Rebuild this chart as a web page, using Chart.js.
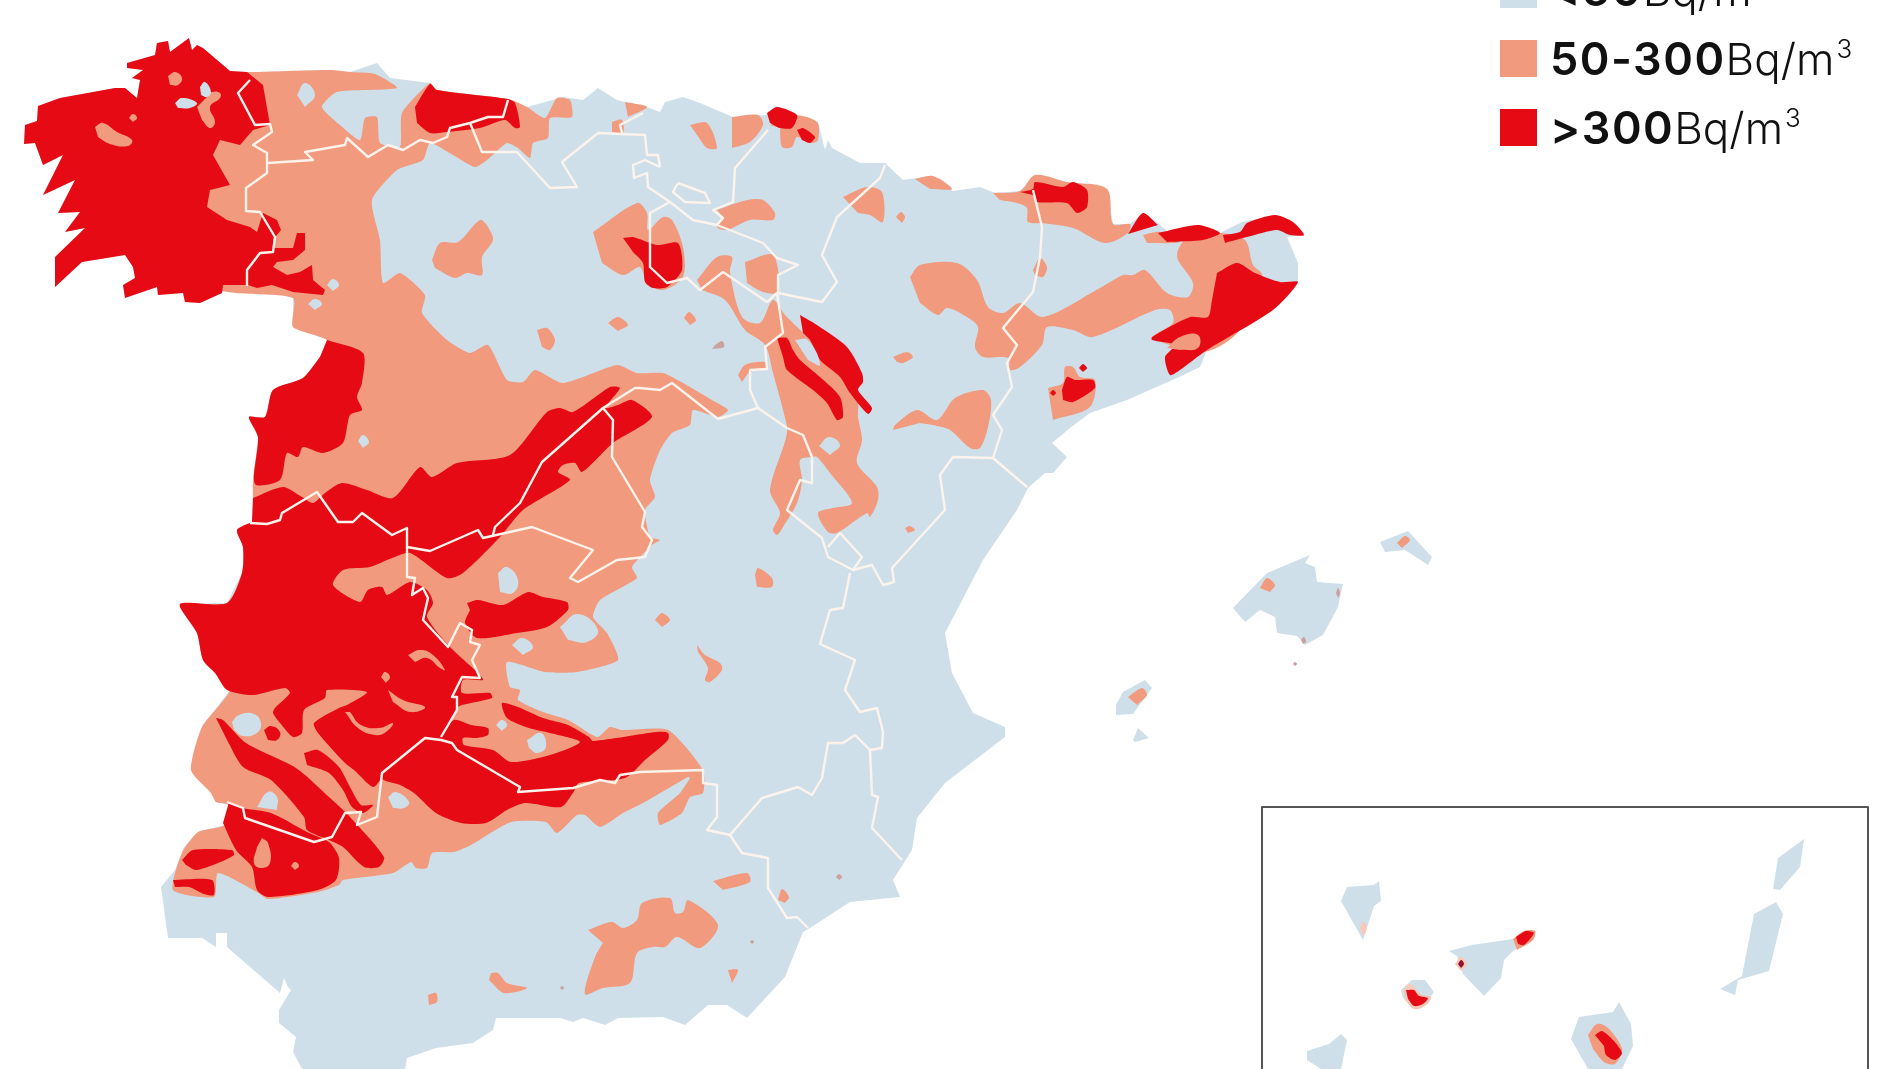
<!DOCTYPE html>
<html>
<head>
<meta charset="utf-8">
<title>Radón en España</title>
<script src="https://cdn.jsdelivr.net/npm/chart.js@4/dist/chart.umd.min.js"></script>
<style>
  html, body { margin: 0; padding: 0; background: #fff; overflow: hidden; }
  #wrap { position: relative; width: 1900px; height: 1069px; overflow: hidden; }
  #map { position: absolute; left: 0; top: 0; }
  .key { position: absolute; left: 1500px; width: 37px; height: 37px; }
  .lab { position: absolute; left: 1550px; font: 300 44px/50px Inter, sans-serif; color: #111; white-space: nowrap; }
  .lab b { font-weight: 600; font-size: 45px; letter-spacing: 1.5px; }
  .lab sup { font-size: 26px; line-height: 0; vertical-align: 17px; margin-left: 2px; }
</style>
</head>
<body>
<div id="wrap">
  <canvas id="map" width="1900" height="1069"></canvas>
</div>
<script>
// colours
var lowColor = "#cfdfe9";
var midColor = "#f19a7d";
var highColor = "#e50a14";
var borderColor = "#fbf3ec";
var faintColor = "#c9a3a0";
var darkSpotColor = "#8f1030";
var haloColor = "#f8c9b8";

// legend
var legendBold = ["<50", "50-300", ">300"];
var legendUnit = "Bq/m";

// ***map outlines, in picture coordinates***
var mainland = [[24,144],[25,125],[37,121],[38,106],[60,98],[115,88],[125,88],[137,98],[140,80],[132,78],[143,70],[127,68],[127,63],[155,55],[157,43],[168,41],[170,52],[189,38],[192,50],[197,45],[203,48],[230,71],[247,72],[257,72],[330,70],[350,72],[377,63],[390,78],[430,83],[437,90],[508,99],[527,107],[563,97],[583,100],[598,88],[617,100],[647,107],[660,112],[665,102],[683,97],[700,103],[733,117],[767,115],[777,106],[797,115],[818,122],[825,150],[828,140],[832,148],[860,163],[885,163],[903,180],[930,176],[953,191],[980,187],[995,193],[1020,191],[1035,175],[1067,182],[1107,189],[1113,224],[1130,224],[1143,213],[1157,222],[1168,232],[1198,225],[1220,233],[1242,222],[1277,215],[1293,222],[1304,235],[1287,237],[1298,263],[1298,282],[1273,310],[1207,350],[1200,367],[1177,378],[1127,400],[1090,413],[1070,428],[1052,443],[1067,457],[1053,473],[1045,473],[1028,488],[1017,510],[983,560],[945,633],[952,673],[973,713],[1005,727],[1005,737],[945,783],[917,818],[912,850],[893,880],[900,897],[850,902],[810,928],[803,932],[785,977],[747,1018],[727,1005],[708,1005],[685,1025],[663,1017],[618,1018],[605,1025],[583,1018],[573,1022],[560,1018],[496,1018],[493,1030],[473,1043],[436,1048],[407,1058],[405,1069],[302,1069],[293,1052],[296,1037],[279,1023],[279,1010],[291,990],[288,987],[284,978],[280,993],[227,947],[227,933],[216,933],[216,947],[202,938],[168,938],[161,887],[175,870],[184,847],[198,832],[225,825],[229,805],[216,802],[211,793],[191,770],[202,727],[230,690],[215,673],[203,660],[197,633],[180,604],[227,603],[242,573],[243,547],[237,530],[252,522],[253,480],[258,437],[249,417],[265,417],[273,390],[303,378],[320,357],[327,340],[293,327],[293,298],[248,285],[223,285],[222,293],[200,303],[185,302],[183,293],[158,295],[157,287],[125,298],[123,285],[135,278],[133,267],[125,255],[82,262],[55,287],[55,257],[85,228],[65,232],[80,212],[58,213],[75,180],[43,195],[63,155],[43,165],[35,143]];
var mallorca = [[1233,608],[1267,573],[1310,555],[1305,563],[1315,567],[1317,582],[1343,584],[1338,607],[1323,635],[1305,645],[1297,636],[1277,633],[1275,617],[1260,610],[1245,622]];
var menorca = [[1380,542],[1408,531],[1432,557],[1428,565],[1405,550],[1385,552]];
var ibiza = [[1116,705],[1123,692],[1145,680],[1152,688],[1133,714],[1116,715]];
var formentera = [[1133,740],[1138,728],[1149,738],[1135,742]];
var laPalma = [[1347,887],[1374,885],[1379,881],[1381,901],[1374,906],[1363,940],[1341,901]];
var tenerife = [[1449,951],[1472,945],[1513,939],[1535,931],[1533,939],[1513,951],[1504,960],[1501,978],[1484,996],[1463,974],[1457,956]];
var gomera = [[1401,990],[1412,980],[1425,980],[1434,992],[1425,1005],[1412,1008],[1403,998]];
var hierro = [[1307,1051],[1329,1044],[1341,1034],[1347,1040],[1341,1069],[1321,1069],[1307,1060]];
var granCanaria = [[1579,1017],[1613,1012],[1619,1002],[1631,1024],[1633,1046],[1622,1069],[1588,1069],[1571,1039]];
var fuerteventura = [[1720,989],[1742,976],[1754,914],[1776,902],[1783,914],[1769,971],[1738,980],[1735,995]];
var lanzarote = [[1778,858],[1804,839],[1800,867],[1780,890],[1773,889]];

// 50-300 areas
var midWest = [[247,72],[257,72],[330,70],[350,72],[375,74],[397,88],[337,92],[322,107],[340,125],[360,140],[365,118],[377,117],[380,143],[400,147],[402,113],[430,83],[437,90],[508,99],[527,107],[545,118],[557,98],[570,100],[572,117],[550,118],[548,138],[533,143],[530,158],[518,148],[507,143],[487,160],[475,167],[453,155],[430,143],[423,160],[397,170],[372,200],[380,240],[383,283],[400,273],[425,295],[422,313],[447,340],[470,353],[488,345],[507,380],[523,382],[535,370],[563,383],[617,365],[637,373],[663,373],[683,383],[712,400],[728,410],[718,417],[693,410],[690,425],[672,433],[660,450],[650,480],[655,497],[645,510],[650,537],[660,540],[652,545],[632,567],[637,578],[600,600],[593,617],[607,633],[618,660],[577,672],[545,672],[507,662],[510,687],[520,690],[518,700],[543,712],[568,720],[589,733],[598,737],[610,727],[622,730],[668,730],[703,770],[703,793],[690,797],[682,813],[660,825],[658,813],[680,793],[690,778],[688,777],[643,803],[623,813],[600,827],[585,815],[577,815],[557,833],[546,822],[511,822],[471,845],[454,852],[432,853],[427,868],[416,868],[411,862],[393,873],[343,880],[339,885],[318,892],[268,899],[257,892],[218,873],[214,897],[173,890],[182,853],[198,832],[225,825],[229,805],[216,802],[211,793],[191,770],[202,727],[230,690],[215,673],[203,660],[197,633],[180,604],[227,603],[242,573],[243,547],[237,530],[252,522],[253,480],[258,437],[249,417],[265,417],[273,390],[303,378],[320,357],[327,340],[293,327],[293,298],[210,285],[200,100]];
var midIberian = [[697,280],[717,257],[732,257],[730,272],[742,317],[760,323],[773,300],[785,315],[795,325],[810,340],[857,400],[858,417],[862,440],[857,463],[877,487],[878,500],[870,517],[867,513],[837,533],[828,532],[818,513],[833,508],[852,503],[830,473],[817,457],[812,457],[800,460],[802,480],[797,503],[783,527],[777,535],[773,530],[780,513],[770,490],[787,433],[783,410],[773,373],[765,345],[745,330],[725,300],[702,290]];
var midEbro = [[910,277],[920,265],[957,263],[977,280],[988,307],[1003,313],[1020,303],[1043,317],[1100,288],[1123,275],[1133,275],[1145,270],[1167,293],[1188,297],[1193,283],[1178,260],[1178,250],[1190,235],[1220,233],[1245,240],[1253,265],[1262,275],[1240,330],[1205,352],[1170,345],[1153,337],[1173,323],[1170,310],[1155,310],[1093,337],[1073,330],[1047,327],[1042,345],[1020,367],[1010,370],[1008,358],[983,357],[975,347],[978,327],[967,317],[947,308],[938,315],[920,303]];
var midPyrenees = [[993,193],[1020,191],[1035,175],[1067,182],[1107,189],[1113,224],[1130,224],[1128,233],[1105,243],[1073,228],[1042,223],[1028,222],[1027,208],[1017,203],[1000,200]];
var midEmporda = [[1143,235],[1160,232],[1180,242],[1147,243]];
var midJaca = [[915,179],[933,176],[952,189],[930,189]];
var midBurgos = [[593,232],[637,203],[647,213],[648,230],[663,217],[672,220],[683,247],[683,277],[663,290],[647,283],[640,267],[623,275],[602,263]];
var midLeon = [[432,260],[440,243],[458,242],[480,220],[488,227],[493,240],[482,257],[482,275],[467,273],[455,278],[435,268]];
var midCantabria = [[625,102],[647,107],[628,117]];
var midSantander = [[612,122],[622,120],[623,133],[612,132]];
var midBiscay = [[690,125],[707,123],[717,148],[707,148],[697,135]];
var midAlava = [[732,117],[758,115],[763,125],[750,142],[732,148]];
var midGuipuzcoa = [[770,125],[793,115],[817,122],[818,140],[812,143],[797,137],[792,147],[782,147],[780,128]];
var midRioja = [[717,210],[747,200],[763,200],[775,213],[773,220],[750,220],[727,230],[717,227],[723,217]];
var midSegovia = [[745,262],[773,255],[778,292],[763,292],[747,283]];
var midNavarra = [[843,197],[867,187],[882,192],[883,222],[870,215],[858,213]];
var midBlobs = [
  [[1033,270],[1040,258],[1047,267],[1043,277],[1035,275]],
  [[896,217],[901,212],[905,217],[902,223]],
  [[608,323],[618,317],[628,325],[618,331]],
  [[684,318],[689,312],[696,320],[690,325]],
  [[537,330],[547,328],[555,340],[550,350],[542,347]],
  [[893,357],[907,352],[913,357],[903,363],[897,362]],
  [[738,375],[745,365],[765,362],[768,368],[750,372],[742,382]],
  [[755,575],[758,568],[772,578],[772,587],[757,587]],
  [[655,620],[662,613],[670,620],[662,627]],
  [[697,645],[705,655],[720,663],[722,670],[710,682],[705,680],[708,668],[698,652]],
  [[905,528],[910,526],[915,530],[908,533]]
];
var midTeruel = [[893,430],[895,425],[917,410],[937,420],[955,398],[983,390],[991,400],[988,427],[980,448],[970,448],[950,430],[933,425],[920,423]];
var midCastellon = [[1048,388],[1063,383],[1065,367],[1073,367],[1080,377],[1095,380],[1090,407],[1053,420]];
var midGranada = [[588,930],[612,922],[623,928],[637,920],[642,903],[670,898],[675,913],[683,912],[688,900],[718,925],[700,948],[677,937],[665,947],[653,947],[637,953],[630,983],[603,988],[585,994],[595,957],[603,943]];
var midSouth = [
  [[713,881],[747,873],[750,882],[723,890]],
  [[778,900],[782,889],[789,897],[785,903]],
  [[728,970],[738,970],[732,983]],
  [[491,973],[498,973],[507,983],[527,988],[504,993],[489,980]],
  [[428,995],[436,993],[437,1002],[429,1005]]
];
var midIslands = [
  [[1260,588],[1267,578],[1275,585],[1270,592]],
  [[1397,543],[1405,536],[1410,540],[1402,548]],
  [[1128,697],[1142,688],[1147,695],[1137,705]],
  [[1513,939],[1524,931],[1535,931],[1533,940],[1517,950]],
  [[1588,1035],[1597,1024],[1608,1028],[1622,1049],[1615,1064],[1604,1062],[1593,1049]]
];
var haloSpots = [
  [[1360,928],[1363,922],[1367,928],[1363,936]],
  [[1455,964],[1461,957],[1467,964],[1461,971]],
  [[1403,990],[1410,984],[1421,994],[1431,997],[1425,1006],[1414,1009],[1406,1001]]
];
var faintSpots = [
  [[836,877],[839,874],[842,877],[839,880]],
  [[750,942],[752,940],[754,942],[752,944]],
  [[560,988],[562,986],[564,988],[562,990]],
  [[1336,593],[1338,588],[1340,593],[1338,598]],
  [[1301,640],[1304,637],[1306,642],[1303,644]],
  [[1293,664],[1295,662],[1297,664],[1295,666]],
  [[715,345],[722,341],[724,347],[712,349]]
];

// >300 areas
var highGalicia = [[24,144],[25,125],[37,121],[38,106],[60,98],[115,88],[125,88],[137,98],[140,80],[132,78],[143,70],[127,68],[127,63],[155,55],[157,43],[168,41],[170,52],[189,38],[192,50],[197,45],[203,48],[230,71],[247,72],[263,85],[270,125],[253,130],[240,145],[220,140],[213,155],[230,185],[210,190],[207,207],[227,220],[250,227],[257,232],[263,213],[277,220],[281,230],[273,240],[275,248],[293,248],[297,233],[305,233],[305,250],[293,260],[277,262],[273,267],[287,275],[300,272],[312,265],[313,280],[325,290],[323,295],[293,292],[272,285],[257,288],[248,285],[223,285],[222,293],[200,303],[185,302],[183,293],[158,295],[157,287],[125,298],[123,285],[135,278],[133,267],[125,255],[82,262],[55,287],[55,257],[85,228],[65,232],[80,212],[58,213],[75,180],[43,195],[63,155],[43,165],[35,143]];
var highMinho = [[327,340],[363,353],[362,383],[357,397],[362,410],[350,415],[343,443],[323,453],[303,447],[298,457],[287,453],[280,480],[255,484],[258,437],[249,417],[265,417],[273,390],[303,378],[320,357]];
var highWest = [[253,498],[283,487],[302,497],[313,503],[325,493],[342,483],[367,490],[393,498],[420,467],[432,477],[457,463],[510,455],[547,412],[560,408],[573,412],[610,387],[620,388],[605,408],[618,405],[632,400],[652,417],[613,443],[582,472],[575,463],[563,465],[558,472],[570,480],[523,510],[500,537],[463,573],[447,578],[410,553],[392,558],[370,567],[343,570],[333,585],[360,602],[368,590],[382,587],[387,595],[410,582],[427,590],[433,603],[427,617],[450,647],[478,673],[483,680],[463,680],[462,693],[490,693],[492,698],[462,705],[457,708],[439,738],[425,738],[382,778],[373,787],[354,770],[345,763],[318,733],[314,723],[339,708],[347,705],[367,692],[327,690],[325,698],[304,710],[302,733],[293,737],[280,723],[273,713],[275,708],[290,693],[285,688],[253,695],[227,690],[215,673],[203,660],[197,633],[180,604],[227,603],[242,573],[243,547],[237,530],[252,522]];
var highCordoba = [[439,738],[454,720],[471,725],[488,728],[488,735],[477,738],[463,738],[464,745],[493,750],[511,762],[550,755],[580,742],[550,733],[529,728],[507,718],[502,703],[518,707],[543,718],[568,725],[589,737],[593,741],[657,732],[668,733],[668,740],[645,760],[625,778],[579,783],[573,793],[561,807],[525,803],[507,810],[486,823],[461,823],[436,813],[414,793],[400,785],[382,778],[425,738]];
var highDiagonal = [[216,718],[223,720],[246,743],[296,768],[329,797],[350,817],[384,857],[379,867],[364,867],[343,847],[329,840],[307,830],[304,817],[271,780],[243,767],[227,740]];
var highHuelva = [[229,802],[243,808],[271,813],[307,832],[329,842],[339,858],[336,880],[318,890],[268,897],[257,890],[252,867],[236,850],[223,823]];
var highAyamonte = [[182,860],[193,850],[232,850],[234,855],[218,863],[196,870],[186,865]];
var highCoast = [[173,880],[212,880],[214,895],[204,894],[189,887],[175,887]];
var highAracena = [[304,753],[318,750],[339,767],[350,787],[361,805],[373,805],[363,813],[352,807],[343,790],[329,773],[307,765]];
var highCaceres = [[467,603],[478,600],[503,605],[528,592],[543,597],[567,602],[568,610],[547,627],[517,633],[477,638],[465,623],[470,610]];
var highAsturias = [[415,107],[430,84],[437,90],[508,99],[515,103],[520,127],[515,128],[505,120],[480,128],[447,132],[430,133],[417,123]];
var highBurgos = [[623,238],[633,237],[657,245],[678,243],[682,270],[667,287],[653,288],[645,282],[643,263],[633,252]];
var highBiscay = [[767,113],[777,107],[797,115],[792,128],[780,128],[770,123]];
var highGuipuzcoa = [[797,130],[803,128],[815,137],[810,143],[802,140]];
var highLower = [[777,338],[787,338],[793,350],[800,360],[820,377],[840,397],[843,417],[837,420],[827,403],[813,390],[787,370],[783,357]];
var highUpper = [[800,315],[817,325],[847,347],[862,373],[863,382],[858,390],[872,408],[868,414],[850,393],[840,377],[820,360],[810,340],[803,333]];
var highPyrenees = [[1020,192],[1033,189],[1035,182],[1063,187],[1073,182],[1087,190],[1087,207],[1077,213],[1067,203],[1037,202],[1033,195]];
var highTriangle = [[1128,234],[1143,213],[1158,225]];
var highEmporda = [[1158,233],[1198,225],[1220,233],[1203,240],[1167,242]];
var highGirona = [[1223,235],[1240,232],[1247,223],[1275,215],[1293,222],[1304,235],[1290,235],[1277,230],[1247,237],[1225,243]];
var highCatalonia = [[1217,273],[1237,263],[1255,273],[1280,282],[1298,282],[1273,310],[1207,350],[1180,370],[1170,375],[1165,357],[1175,345],[1152,340],[1152,337],[1190,317],[1208,317],[1212,300]];
var highCastellon = [[1062,390],[1067,377],[1075,380],[1093,380],[1095,388],[1073,402],[1063,400]];
var highDots = [
  [[1079,368],[1083,364],[1087,368],[1083,372]],
  [[1050,393],[1053,390],[1056,393],[1053,396]],
  [[1516,937],[1526,931],[1534,933],[1524,945],[1518,944]],
  [[1406,990],[1414,990],[1419,996],[1428,998],[1423,1004],[1414,1006],[1408,999]],
  [[1595,1035],[1602,1031],[1613,1040],[1622,1053],[1615,1060],[1606,1055],[1604,1046]]
];
var darkSpots = [[[1458,964],[1461,960],[1464,964],[1461,968]]];

// holes on top of the red
var midHoles = [
  [[95,127],[103,123],[117,132],[132,140],[128,146],[110,144],[98,137]],
  [[168,76],[175,72],[182,78],[178,85],[170,85]],
  [[129,118],[133,114],[137,118],[133,122]],
  [[197,107],[207,97],[212,92],[220,93],[220,98],[210,107],[215,122],[210,128],[202,120]],
  [[262,838],[268,843],[270,863],[261,868],[254,863],[257,847]],
  [[291,866],[295,862],[299,866],[295,870]],
  [[408,655],[420,650],[433,655],[445,670],[440,668],[427,658],[415,662]],
  [[381,677],[385,672],[390,677],[386,683]],
  [[388,690],[403,700],[425,707],[410,712],[393,702]],
  [[350,712],[361,725],[379,728],[393,723],[386,732],[375,735],[358,728],[345,712]],
  [[1167,348],[1180,337],[1198,335],[1198,348],[1180,350]]
];
var lowHoles = [
  [[297,95],[305,83],[315,95],[305,107]],
  [[327,285],[333,279],[339,285],[333,291]],
  [[308,304],[315,299],[322,304],[315,310]],
  [[358,441],[363,435],[369,442],[363,448]],
  [[498,573],[507,567],[518,580],[513,593],[500,592]],
  [[560,627],[578,614],[598,630],[587,642],[568,640]],
  [[512,645],[522,638],[533,647],[523,655]],
  [[232,722],[239,715],[254,714],[261,723],[257,733],[243,736],[234,730]],
  [[257,807],[268,792],[277,797],[277,810]],
  [[388,797],[396,792],[409,802],[404,808],[393,808]],
  [[496,725],[502,720],[507,725],[502,731]],
  [[527,740],[541,733],[546,747],[537,753],[529,748]],
  [[819,446],[829,437],[840,445],[830,455]],
  [[795,340],[808,340],[820,365],[808,360]],
  [[175,103],[182,98],[197,103],[190,108],[178,108]],
  [[200,87],[205,82],[211,92],[207,97],[201,95]]
];
var highSpots = [[[264,730],[271,726],[280,732],[277,740],[268,740]]];

// region borders
var borderLines = [
  [[250,80],[238,93],[255,125],[270,124],[272,132],[253,145],[267,153],[267,173],[246,188],[246,211],[260,212],[275,237],[273,252],[260,253],[247,270],[247,285]],
  [[268,163],[313,160],[305,152],[345,145],[347,138],[368,157],[388,145],[403,150],[420,140],[433,143],[447,137],[450,128],[470,123],[488,117],[503,117],[508,100]],
  [[470,123],[482,152],[517,152],[550,188],[577,187],[562,162],[598,133],[645,135],[647,155],[658,155],[660,167]],
  [[622,133],[620,125],[643,113]],
  [[660,167],[645,160],[633,165],[634,178],[647,173],[648,187],[670,202],[693,220],[717,225],[763,243],[777,258],[798,265],[778,275],[778,293],[822,302],[837,282],[822,255],[837,217],[880,178],[885,165]],
  [[768,130],[735,168],[733,202],[713,210],[723,218],[717,225]],
  [[678,183],[705,193],[710,203],[685,202],[673,192],[678,183]],
  [[650,213],[670,202]],
  [[650,213],[650,267],[667,283],[687,278],[700,290],[723,272],[767,302],[777,293],[783,333],[765,347],[767,369],[750,370],[750,390],[758,408],[718,419],[672,383],[660,390],[640,388],[635,388],[603,408],[542,462],[520,503],[495,527],[493,535]],
  [[1033,190],[1042,227],[1040,257],[1033,292],[1003,328],[1017,345],[1007,363],[1012,387],[993,415],[1002,430],[993,458],[1027,487]],
  [[993,458],[953,457],[940,475],[945,510],[892,568],[894,582],[883,585],[872,565],[853,570],[828,557],[822,538],[787,510],[800,480],[812,483],[812,457],[803,435],[787,428],[758,408]],
  [[828,547],[840,533],[862,557],[853,570]],
  [[850,573],[843,608],[830,610],[820,644],[855,660],[845,690],[860,712],[877,708],[883,732],[882,748],[870,750],[855,735],[843,743],[828,743],[822,778],[812,795],[798,787],[762,798],[730,835],[742,853],[768,858],[768,888],[787,918],[797,917],[808,928]],
  [[870,750],[872,795],[878,797],[872,828],[902,860]],
  [[730,835],[707,830],[717,817],[717,785],[703,783],[703,770],[640,772],[620,775],[615,783],[600,780],[573,788],[518,792],[520,787],[457,750],[452,743],[441,740],[425,738],[382,773],[377,817],[357,825],[361,812],[345,813],[332,837],[314,842],[245,818],[243,808],[227,802]],
  [[441,737],[457,710],[457,697],[452,697],[462,677],[480,678],[472,660],[480,645],[470,642],[472,630],[460,623],[448,647],[423,620],[428,598],[423,588],[412,595],[415,578],[407,577],[407,528],[392,535],[362,513],[353,522],[338,522],[317,492],[282,513],[280,520],[267,524],[250,523]],
  [[407,547],[430,551],[478,530],[483,538],[532,527],[593,550],[570,578],[578,582],[617,560],[645,557],[652,540],[642,527],[645,512],[612,457],[613,420],[603,408]]
];
var insetBox = [[1262,1080],[1262,807],[1868,807],[1868,1080]];

// ***chart code***
function toPoints(list) {
    return list.map(function (p) { return { x: p[0], y: p[1] }; });
}
function area(list, color, tension) {
    return {
        data: toPoints(list),
        showLine: true,
        fill: 'shape',
        backgroundColor: color,
        borderWidth: 0,
        pointRadius: 0,
        tension: tension
    };
}
function line(list, color, width) {
    return {
        data: toPoints(list),
        showLine: true,
        fill: false,
        borderColor: color,
        borderWidth: width,
        borderJoinStyle: 'round',
        pointRadius: 0
    };
}

var sets = [];
[mainland, mallorca, menorca, ibiza, formentera, laPalma, tenerife, gomera, hierro, granCanaria, fuerteventura, lanzarote].forEach(function (s) {
    sets.push(area(s, lowColor, 0));
});
sets.push(area(midWest, midColor, 0.2));
[midIberian, midEbro, midPyrenees, midEmporda, midJaca, midBurgos, midLeon, midCantabria, midSantander, midBiscay, midAlava, midGuipuzcoa, midRioja, midSegovia, midNavarra, midTeruel, midCastellon, midGranada].concat(midBlobs, midSouth, midIslands).forEach(function (s) {
    sets.push(area(s, midColor, 0.3));
});
haloSpots.forEach(function (s) { sets.push(area(s, haloColor, 0.4)); });
faintSpots.forEach(function (s) { sets.push(area(s, faintColor, 0.4)); });
sets.push(area(highGalicia, highColor, 0));
[highMinho, highWest, highCordoba, highDiagonal, highHuelva, highAyamonte, highCoast, highAracena, highCaceres, highAsturias, highBurgos, highBiscay, highGuipuzcoa, highLower, highUpper, highPyrenees, highTriangle, highEmporda, highGirona, highCatalonia, highCastellon].concat(highDots).forEach(function (s) {
    sets.push(area(s, highColor, 0.25));
});
midHoles.forEach(function (s) { sets.push(area(s, midColor, 0.45)); });
lowHoles.forEach(function (s) { sets.push(area(s, lowColor, 0.45)); });
highSpots.forEach(function (s) { sets.push(area(s, highColor, 0.45)); });
darkSpots.forEach(function (s) { sets.push(area(s, darkSpotColor, 0.4)); });
borderLines.forEach(function (s) { sets.push(line(s, borderColor, 2.4)); });
sets.push(line(insetBox, "#555", 2));

// Chart.js paints the first dataset last
sets.reverse();

var myChart = new Chart(document.getElementById("map"), {
    type: 'scatter',
    data: { datasets: sets },
    options: {
        responsive: false,
        animation: false,
        events: [],
        layout: { padding: 0 },
        plugins: { legend: { display: false }, tooltip: { enabled: false } },
        scales: {
            x: { type: 'linear', min: 0, max: 1900, display: false },
            y: { type: 'linear', min: 0, max: 1069, reverse: true, display: false }
        }
    }
});

// legend as real text
var wrap = document.getElementById("wrap");
var keyColors = [lowColor, midColor, highColor];
var keyTops = [-29, 40, 109];
legendBold.forEach(function (txt, i) {
    var key = document.createElement("div");
    key.className = "key";
    key.style.top = keyTops[i] + "px";
    key.style.background = keyColors[i];
    wrap.appendChild(key);
    var lab = document.createElement("div");
    lab.className = "lab";
    lab.style.top = (keyTops[i] - 6) + "px";
    var b = document.createElement("b");
    b.textContent = txt;
    lab.appendChild(b);
    lab.appendChild(document.createTextNode(legendUnit));
    var sup = document.createElement("sup");
    sup.textContent = "3";
    lab.appendChild(sup);
    wrap.appendChild(lab);
});
</script>
</body>
</html>
